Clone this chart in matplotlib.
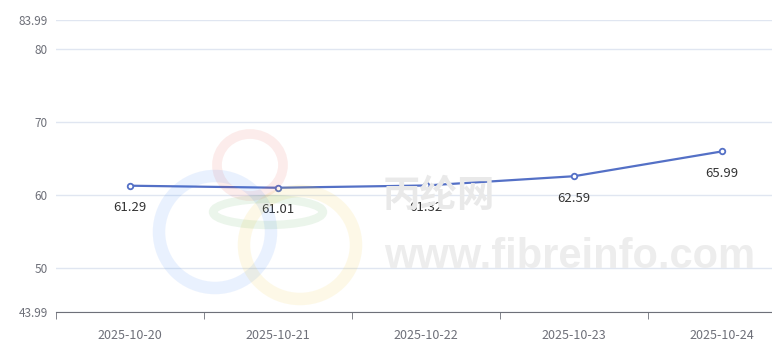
import matplotlib
matplotlib.use("Agg")
import matplotlib.pyplot as plt
from matplotlib.patches import Ellipse

dates = ["2025-10-20", "2025-10-21", "2025-10-22", "2025-10-23", "2025-10-24"]
values = [61.29, 61.01, 61.32, 62.59, 65.99]
y_ticks = [43.99, 50, 60, 70, 80, 83.99]
y_tick_labels = ["43.99", "50", "60", "70", "80", "83.99"]

plt.rcParams['font.family'] = ['Noto Sans CJK SC', 'DejaVu Sans']

W, H = 772, 353
fig = plt.figure(figsize=(W / 100, H / 100), dpi=100)
ax = fig.add_axes([56 / W, 1 - 312 / H, (W - 56) / W, 292 / H])

# watermark (decorative)
def ring(cx, cy, w, h, color, lw, a=0.10):
    e = Ellipse((cx / W, 1 - cy / H), w / W, h / H, transform=fig.transFigure,
                fill=False, edgecolor=color, linewidth=lw, alpha=a, zorder=0)
    fig.patches.append(e)
ring(250, 165, 66, 62, "#e84a3c", 7)
ring(215, 232, 112, 112, "#2f7cf6", 9)
ring(300, 245, 112, 108, "#f2c21a", 9)
ring(268, 212, 110, 26, "#3ca03c", 6)
fig.text(439 / W, 1 - 195 / H, "丙纶网", fontsize=27, color="#e9e9e9", ha="center", va="center",
         fontweight="bold", zorder=0)
fig.text(570 / W, 1 - 257 / H, "www.fibreinfo.com", fontsize=30, color="#ededed", ha="center",
         va="center", fontweight="bold", family=["Liberation Sans"], zorder=0)

x = list(range(len(dates)))
ax.plot(x, values, color="#5470c6", linewidth=1.6, marker="o", markersize=4,
        markerfacecolor="white", markeredgecolor="#5470c6", markeredgewidth=1.3, zorder=3)
for xi, v in zip(x, values):
    ax.annotate(f"{v:.2f}", (xi, v), xytext=(0, -16), textcoords="offset points",
                ha="center", va="center", fontsize=9.5, color="#333333")

ax.set_yticks(y_ticks)
ax.set_yticklabels(y_tick_labels)
ax.yaxis.grid(True, color="#e0e6f1", linewidth=1)
ax.set_axisbelow(True)
ax.tick_params(axis="y", length=0, labelsize=8.5, labelcolor="#6e7079", pad=6)

ax.set_xticks(x)
ax.set_xticklabels(dates)
ax.set_xticks([i - 0.5 for i in range(len(dates))], minor=True)
ax.tick_params(axis="x", which="major", length=0, labelsize=9, labelcolor="#6e7079", pad=12)
ax.tick_params(axis="x", which="minor", length=5, color="#6e7079", direction="out")

ax.set_ylim(43.99, 83.99)
ax.set_xlim(-0.5, -0.5 + (W - 56) / 148)

for s in ["top", "right", "left"]:
    ax.spines[s].set_visible(False)
ax.spines["bottom"].set_color("#6e7079")
ax.patch.set_alpha(0)

fig.savefig("out.png", dpi=100)
